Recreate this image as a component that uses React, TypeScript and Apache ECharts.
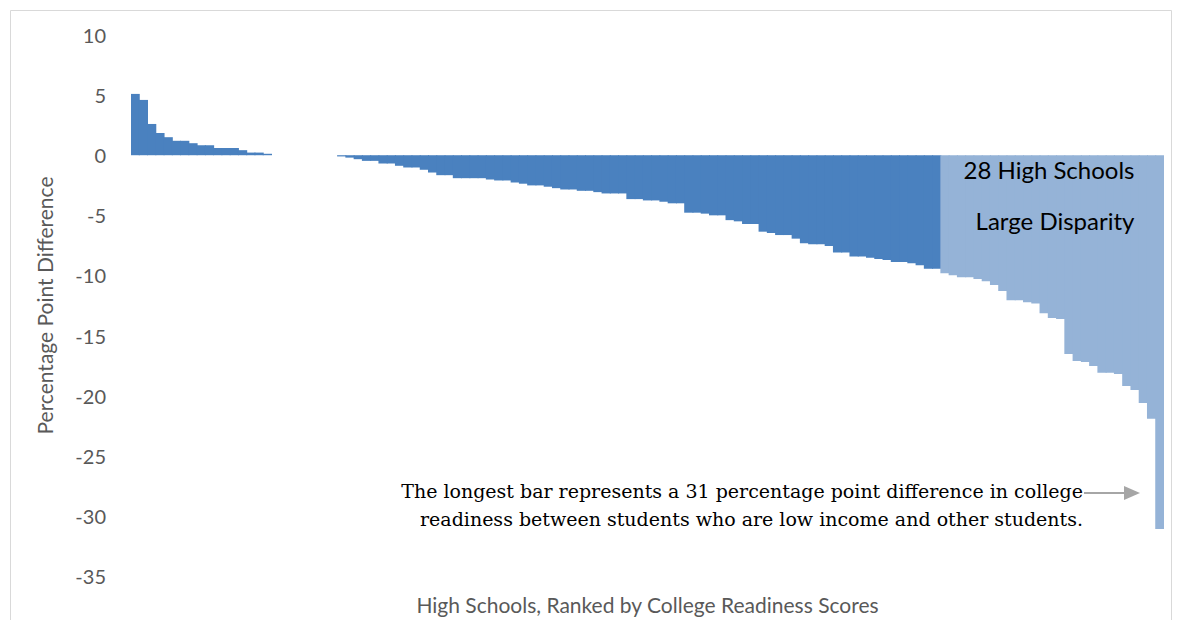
import React, { useEffect, useRef } from "react";
import * as echarts from "echarts";

// Schools ranked by college readiness (positive = low-income students ahead)
const darkValues: number[] = [
  5.1, 4.6, 2.6, 1.85, 1.5, 1.2, 1.2, 1.0, 0.83, 0.83, 0.6, 0.6, 0.6, 0.42, 0.22, 0.22, 0.12,
  0, 0, 0, 0, 0, 0, 0, 0,
  -0.1, -0.2, -0.33, -0.47, -0.47, -0.69, -0.69, -0.88, -1.02, -1.02,
  -1.21, -1.44, -1.66, -1.66, -1.91, -1.91, -1.91, -1.91, -2.02, -2.1,
  -2.1, -2.27, -2.37, -2.51, -2.51, -2.62, -2.74, -2.85, -2.85, -2.96,
  -2.96, -3.07, -3.18, -3.18, -3.18, -3.65, -3.65, -3.76, -3.76, -3.87,
  -4.0, -4.0, -4.78, -4.78, -4.86, -5.0, -5.0, -5.4, -5.5, -5.72,
  -5.72, -6.36, -6.47, -6.64, -6.64, -6.94, -7.33, -7.41, -7.41, -7.55,
  -8.1, -8.1, -8.43, -8.43, -8.52, -8.63, -8.71, -8.88, -8.88, -8.99,
  -9.15, -9.45, -9.45,
];

// High schools with large disparity
const lightValues: number[] = [
  -9.82, -9.98, -10.15, -10.15, -10.3, -10.48, -10.8, -11.3, -12.06, -12.06,
  -12.22, -12.33, -13.14, -13.55, -13.63, -16.54, -17.12, -17.2, -17.53, -18.1,
  -18.1, -18.2, -19.2, -19.53, -20.6, -21.93, -31.1,
];

const yTicks = { min: -35, max: 10, interval: 5 };

const yAxisTitle = "Percentage Point Difference";
const xAxisTitle = "High Schools, Ranked by College Readiness Scores";
const boxTitle1 = "28 High Schools";
const boxTitle2 = "Large Disparity";
const noteLines = [
  "The longest bar represents a 31 percentage point difference in college",
  "readiness between students who are low income and other students.",
];

const DARK = "#4a81bf";
const LIGHT = "#95b3d7";

export default function App() {
  const ref = useRef<HTMLDivElement>(null);

  useEffect(() => {
    if (!ref.current) return;
    const chart = echarts.init(ref.current, undefined, { renderer: "svg" });
    const total = darkValues.length + lightValues.length;
    const categories = Array.from({ length: total }, (_, i) => `School ${i + 1}`);
    const darkData = [...darkValues, ...lightValues.map(() => null)];
    const lightData = [...darkValues.map(() => null), ...lightValues];

    const serif = "'DejaVu Serif', 'Liberation Serif', serif";

    chart.setOption({
      animation: false,
      backgroundColor: "#ffffff",
      textStyle: { fontFamily: "Lato, 'Noto Sans', sans-serif" },
      grid: { left: 131, right: 14, top: 35, bottom: 42, containLabel: false },
      xAxis: {
        type: "category",
        data: categories,
        axisLine: { show: false, onZero: false },
        axisTick: { show: false },
        axisLabel: { show: false },
        splitLine: { show: false },
        name: xAxisTitle,
        nameLocation: "middle",
        nameGap: 18,
        nameTextStyle: { fontSize: 21, color: "#595959", fontFamily: "Lato" },
      },
      yAxis: {
        type: "value",
        min: yTicks.min,
        max: yTicks.max,
        interval: yTicks.interval,
        axisLine: { show: false },
        axisTick: { show: false },
        splitLine: { show: false },
        axisLabel: { fontSize: 20, color: "#595959", margin: 25, fontFamily: "Lato" },
        name: yAxisTitle,
        nameLocation: "middle",
        nameGap: 76,
        nameRotate: 90,
        nameTextStyle: { fontSize: 21, color: "#595959", fontFamily: "Lato" },
      },
      series: [
        {
          type: "bar",
          name: "Schools",
          data: darkData,
          barWidth: "112%",
          barGap: "-100%",
          itemStyle: { color: DARK },
        },
        {
          type: "bar",
          name: "Large Disparity",
          data: lightData,
          barWidth: "112%",
          barGap: "-100%",
          itemStyle: { color: LIGHT },
        },
      ],
      graphic: [
        {
          type: "rect",
          z: 100,
          shape: { x: 10.5, y: 10.5, width: 1161, height: 640 },
          style: { fill: "none", stroke: "#d9d9d9", lineWidth: 1 },
          silent: true,
        },
        {
          type: "text",
          z: 100,
          x: 1049,
          y: 169,
          style: {
            text: boxTitle1,
            fontSize: 24,
            fontFamily: "Lato",
            fill: "#000000",
            align: "center",
            verticalAlign: "middle",
          },
        },
        {
          type: "text",
          z: 100,
          x: 1055,
          y: 220,
          style: {
            text: boxTitle2,
            fontSize: 24,
            fontFamily: "Lato",
            fill: "#000000",
            align: "center",
            verticalAlign: "middle",
          },
        },
        {
          type: "text",
          z: 100,
          x: 1083,
          y: 491,
          style: {
            text: noteLines[0],
            fontSize: 19,
            fontFamily: serif,
            fill: "#000000",
            align: "right",
            verticalAlign: "middle",
          },
        },
        {
          type: "text",
          z: 100,
          x: 1083,
          y: 519,
          style: {
            text: noteLines[1],
            fontSize: 19,
            fontFamily: serif,
            fill: "#000000",
            align: "right",
            verticalAlign: "middle",
          },
        },
        {
          type: "line",
          z: 100,
          shape: { x1: 1084, y1: 493, x2: 1126, y2: 493 },
          style: { stroke: "#a6a6a6", lineWidth: 2 },
        },
        {
          type: "polygon",
          z: 100,
          shape: { points: [[1124, 486], [1140, 493], [1124, 500]] },
          style: { fill: "#a6a6a6" },
        },
      ],
    });

    return () => chart.dispose();
  }, []);

  return (
    <div
      ref={ref}
      style={{ position: "fixed", left: 0, top: 0, width: 1178, height: 620 }}
    />
  );
}
